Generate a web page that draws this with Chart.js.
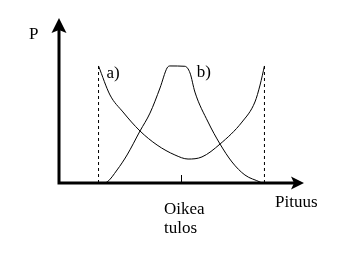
<!DOCTYPE html>
<html>
<head>
<meta charset="utf-8">
<script src="https://cdn.jsdelivr.net/npm/chart.js@4"></script>
<style>
  html, body { margin: 0; padding: 0; background: #fff; }
  canvas { display: block; }
</style>
</head>
<body>
<canvas id="chart" width="348" height="260"></canvas>
<script>
// curve a) - U shaped
const curveAx = [16.2, 20.9, 26.2, 33.2, 40.2, 47.5, 52.9, 58.6, 66.0, 75.0, 80.3, 82.4, 84.2];
const curveAy = [71.8, 54.0, 43.6, 31.9, 23.3, 17.2, 14.7, 16.0, 23.9, 37.4, 49.7, 60.1, 71.8];
// curve b) - peaked, flat top
const curveBx = [18.0, 19.7, 23.8, 27.9, 33.2, 37.3, 41.4, 44.3, 45.5, 51.6, 53.7, 55.7, 61.1, 66.0, 70.9, 76.2, 82.4, 83.2];
const curveBy = [0, 0.6, 8.0, 17.2, 31.9, 42.9, 58.3, 70.6, 71.8, 71.6, 67.5, 55.8, 37.4, 23.9, 12.9, 4.9, 0.6, 0];
// dashed limits
const edgeX = [16.2, 84.2];
const edgeTop = 71.8;
// labels
const xTitle = 'Pituus';
const yTitle = 'P';
const tickValue = 50;
const tickLabel = ['Oikea', 'tulos'];
const seriesNames = ['a)', 'b)'];

const FONT = '17px "Liberation Serif", "DejaVu Serif", serif';

function pts(xs, ys) {
    return xs.map((x, i) => ({ x: x, y: ys[i] }));
}

const decorations = {
    id: 'decorations',
    afterDatasetsDraw(chart) {
        const ctx = chart.ctx;
        const xs = chart.scales.x;
        const ys = chart.scales.y;
        const x0 = xs.getPixelForValue(0);
        const y0 = ys.getPixelForValue(0);
        const xEnd = xs.getPixelForValue(100);
        const yEnd = ys.getPixelForValue(100);

        ctx.save();
        ctx.fillStyle = '#000';
        ctx.strokeStyle = '#000';

        // axes
        ctx.lineWidth = 3;
        ctx.beginPath();
        ctx.moveTo(x0, y0 + 1.5);
        ctx.lineTo(x0, yEnd + 10);
        ctx.moveTo(x0 - 1.5, y0);
        ctx.lineTo(xEnd - 8, y0);
        ctx.stroke();

        // arrow heads
        ctx.beginPath();
        ctx.moveTo(x0, yEnd - 2);
        ctx.lineTo(x0 + 7.5, yEnd + 13);
        ctx.lineTo(x0, yEnd + 10);
        ctx.lineTo(x0 - 7.5, yEnd + 13);
        ctx.closePath();
        ctx.fill();

        ctx.beginPath();
        ctx.moveTo(xEnd + 1, y0);
        ctx.lineTo(xEnd - 12, y0 - 6.5);
        ctx.lineTo(xEnd - 9, y0);
        ctx.lineTo(xEnd - 12, y0 + 6.5);
        ctx.closePath();
        ctx.fill();

        // tick
        const tx = xs.getPixelForValue(tickValue);
        ctx.lineWidth = 1;
        ctx.beginPath();
        ctx.moveTo(Math.round(tx) + 0.5, y0 - 8);
        ctx.lineTo(Math.round(tx) + 0.5, y0);
        ctx.stroke();

        // text
        ctx.font = FONT;
        ctx.textBaseline = 'alphabetic';
        ctx.textAlign = 'left';
        ctx.fillText(tickLabel[0], tx - 17, y0 + 31);
        ctx.fillText(tickLabel[1], tx - 17, y0 + 50);
        ctx.fillText(xTitle, xEnd - 28, y0 + 24);
        ctx.fillText(yTitle, x0 - 30, yEnd + 19);

        ctx.fillText(seriesNames[0], xs.getPixelForValue(edgeX[0]) + 8, ys.getPixelForValue(edgeTop) + 12);
        ctx.fillText(seriesNames[1], xs.getPixelForValue(56.5), ys.getPixelForValue(edgeTop) + 11);
        ctx.restore();
    }
};

new Chart(document.getElementById('chart'), {
    type: 'line',
    data: {
        datasets: [
            { data: pts(curveAx, curveAy), borderColor: '#000', borderWidth: 1, cubicInterpolationMode: 'monotone' },
            { data: pts(curveBx, curveBy), borderColor: '#000', borderWidth: 1, cubicInterpolationMode: 'monotone' },
            { data: pts([edgeX[0], edgeX[0]], [0, edgeTop]), borderColor: '#000', borderWidth: 1, borderDash: [3, 3] },
            { data: pts([edgeX[1], edgeX[1]], [0, edgeTop]), borderColor: '#000', borderWidth: 1, borderDash: [3, 3] }
        ]
    },
    options: {
        responsive: false,
        animation: false,
        events: [],
        layout: { padding: { left: 59, right: 45, top: 20, bottom: 77 } },
        elements: { point: { radius: 0 } },
        plugins: { legend: { display: false }, tooltip: { enabled: false } },
        scales: {
            x: { type: 'linear', min: 0, max: 100, display: false },
            y: { type: 'linear', min: 0, max: 100, display: false }
        }
    },
    plugins: [decorations]
});
</script>
</body>
</html>
